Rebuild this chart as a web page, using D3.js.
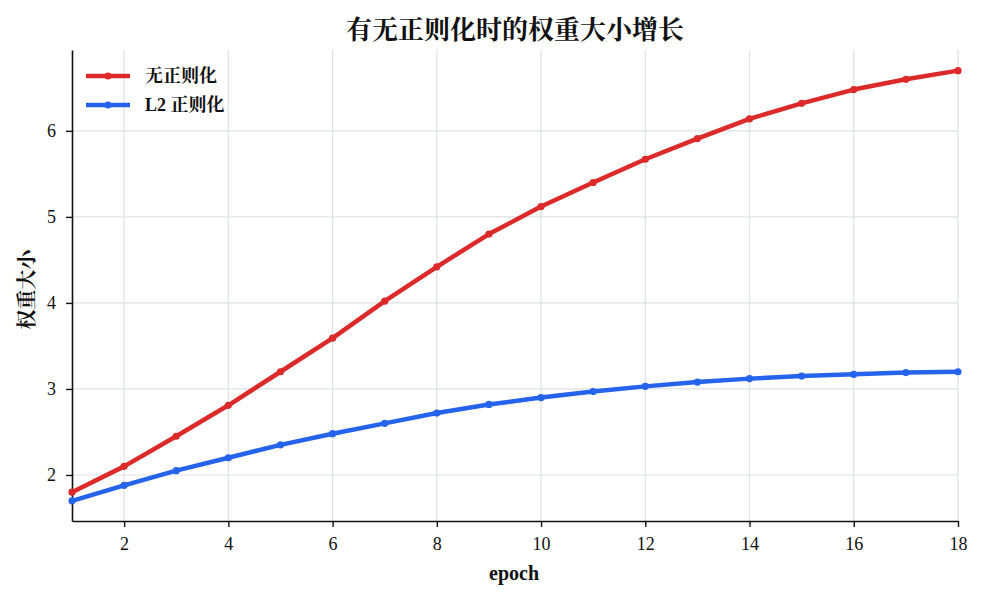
<!DOCTYPE html>
<html><head><meta charset="utf-8">
<script src="https://cdn.jsdelivr.net/npm/d3@7"></script>
<style>
body{margin:0;background:#fff;}
text{font-family:"Liberation Serif","DejaVu Serif","Noto Serif CJK SC","Noto Sans CJK SC",serif;}
</style></head>
<body><svg id="c" width="984" height="599"></svg>
<script>
const epochs = [1,2,3,4,5,6,7,8,9,10,11,12,13,14,15,16,17,18];
const noReg = [1.80,2.10,2.45,2.81,3.20,3.59,4.02,4.42,4.80,5.12,5.40,5.67,5.91,6.14,6.32,6.48,6.60,6.70];
const l2Reg = [1.70,1.88,2.05,2.20,2.35,2.48,2.60,2.72,2.82,2.90,2.97,3.03,3.08,3.12,3.15,3.17,3.19,3.20];
const seriesNames = ["无正则化","L2 正则化"];
const colors = ["#dc2a2a","#2563eb"];
const xTicks = [2,4,6,8,10,12,14,16,18];
const yTicks = [2,3,4,5,6];
const title = "有无正则化时的权重大小增长";
const xLabel = "epoch";
const yLabel = "权重大小";

const svg = d3.select("#c");
const m = {l:72, r:26, t:50, b:78};
const W = 984, H = 599;
const x = d3.scaleLinear().domain([1,18]).range([m.l, W-m.r]);
const y = d3.scaleLinear().domain([1.465,6.94]).range([H-m.b, m.t]);

// grid
svg.append("g").selectAll("line").data(xTicks).join("line")
  .attr("x1",d=>x(d)).attr("x2",d=>x(d)).attr("y1",m.t).attr("y2",H-m.b)
  .attr("stroke","#dde1e6").attr("stroke-width",1.2);
svg.append("g").selectAll("line").data(yTicks).join("line")
  .attr("y1",d=>y(d)).attr("y2",d=>y(d)).attr("x1",m.l).attr("x2",W-m.r)
  .attr("stroke","#dde1e6").attr("stroke-width",1.2);

// axes
const xa = svg.append("g").attr("transform",`translate(0,${H-m.b})`)
  .call(d3.axisBottom(x).tickValues(xTicks).tickFormat(d3.format("d")).tickSize(6).tickPadding(10).tickSizeOuter(0));
const ya = svg.append("g").attr("transform",`translate(${m.l},0)`)
  .call(d3.axisLeft(y).tickValues(yTicks).tickFormat(d3.format("d")).tickSize(6).tickPadding(10).tickSizeOuter(0));
[xa,ya].forEach(a=>{
  a.select(".domain").attr("stroke","#111").attr("stroke-width",1.6);
  a.selectAll(".tick line").attr("stroke","#111").attr("stroke-width",1.4);
  a.selectAll(".tick text").attr("fill","#111").style("font-size","18px")
   .style("font-family",'"Liberation Serif","DejaVu Serif",serif');
});

// lines
const data = [noReg,l2Reg];
const line = d3.line().x((d,i)=>x(epochs[i])).y(d=>y(d)).curve(d3.curveLinear);
data.forEach((s,k)=>{
  const g = svg.append("g");
  g.append("path").datum(s).attr("d",line).attr("fill","none")
    .attr("stroke",colors[k]).attr("stroke-width",4.5).attr("stroke-linejoin","round");
  g.selectAll("circle").data(s).join("circle")
    .attr("cx",(d,i)=>x(epochs[i])).attr("cy",d=>y(d)).attr("r",3.6).attr("fill",colors[k]);
});

// title
svg.append("text").attr("x",(m.l+W-m.r)/2).attr("y",39).attr("text-anchor","middle")
  .style("font-size","26px").style("font-weight","bold")
  .style("font-family",'"Noto Serif CJK SC","Noto Sans CJK SC",serif').attr("fill","#111").text(title);
// x label
svg.append("text").attr("x",(m.l+W-m.r)/2-1).attr("y",580).attr("text-anchor","middle")
  .style("font-size","20px").style("font-weight","bold").attr("fill","#111").text(xLabel);
// y label
svg.append("text").attr("transform",`translate(34,${(m.t+H-m.b)/2+4}) rotate(-90)`).attr("text-anchor","middle")
  .style("font-size","20px").style("font-weight","bold")
  .style("font-family",'"Noto Serif CJK SC","Noto Sans CJK SC",serif').attr("fill","#111").text(yLabel);

// legend
const lg = svg.append("g").attr("transform","translate(86,76)");
seriesNames.forEach((n,k)=>{
  const gy = k*29;
  lg.append("line").attr("x1",0).attr("x2",44).attr("y1",gy).attr("y2",gy)
    .attr("stroke",colors[k]).attr("stroke-width",4.5);
  lg.append("circle").attr("cx",22).attr("cy",gy).attr("r",3.6).attr("fill",colors[k]);
  lg.append("text").attr("x",59).attr("y",gy+6).style("font-size","18px").style("font-weight","bold")
    .style("font-family",'"Liberation Serif","Noto Serif CJK SC","Noto Sans CJK SC",serif')
    .attr("fill","#111").text(n);
});
</script></body></html>
